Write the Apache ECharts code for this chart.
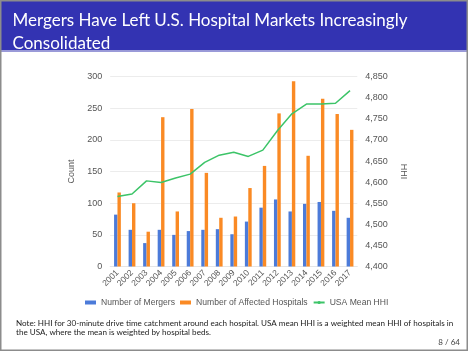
<!DOCTYPE html>
<html>
<head>
<meta charset="utf-8">
<script src="https://cdn.jsdelivr.net/npm/echarts@6/dist/echarts.min.js"></script>
<style>
html,body{margin:0;padding:0;background:#fff;}
#c{width:468px;height:351px;}
</style>
</head>
<body>
<div id="c"></div>
<script>
var years = ['2001','2002','2003','2004','2005','2006','2007','2008','2009','2010','2011','2012','2013','2014','2015','2016','2017'];
var mergers = [82, 58, 37, 58, 50, 56, 58, 59, 51, 71, 93, 106, 87, 99, 102, 88, 77];
var affectedHospitals = [117, 100, 55, 236, 87, 249, 148, 77, 79, 124, 159, 242, 293, 175, 265, 241, 216];
var meanHHI = [4566, 4572, 4603, 4599, 4610, 4619, 4647, 4664, 4671, 4661, 4676, 4722, 4762, 4785, 4785, 4787, 4817];
var countTicks = {min: 0, max: 300, interval: 50};
var hhiTicks = {min: 4400, max: 4850, interval: 50};

var titleLines = 'Mergers Have Left U.S. Hospital Markets Increasingly\nConsolidated';
var noteText = 'Note: HHI for 30-minute drive time catchment around each hospital. USA mean HHI is a weighted mean HHI of hospitals in\nthe USA, where the mean is weighted by hospital beds.';
var pageText = '8 / 64';

var chart = echarts.init(document.getElementById('c'), null, {renderer: 'canvas'});
var axisFont = 'Liberation Sans, Arial, sans-serif';
var slideFont = 'Lato, DejaVu Sans, sans-serif';

function fmt(v){ return String(v).replace(/\B(?=(\d{3})+(?!\d))/g, ','); }

chart.setOption({
  backgroundColor: '#ffffff',
  animation: false,
  grid: {left: 110.2, right: 110.7, top: 76.7, bottom: 84.5, containLabel: false},
  legend: {
    data: [
      {name: 'Number of Mergers', icon: 'rect'},
      {name: 'Number of Affected Hospitals', icon: 'rect'},
      {name: 'USA Mean HHI'}
    ],
    left: 85, top: 298,
    itemWidth: 11, itemHeight: 4, itemGap: 5,
    textStyle: {fontFamily: axisFont, fontSize: 8.6, color: '#555'},
    padding: 0
  },
  xAxis: {
    type: 'category', data: years,
    axisLine: {show: true, lineStyle: {color: '#e6e6e6'}},
    axisTick: {show: false},
    axisLabel: {rotate: 45, fontFamily: axisFont, fontSize: 8.5, color: '#555', margin: 5, interval: 0}
  },
  yAxis: [
    {
      type: 'value', min: countTicks.min, max: countTicks.max, interval: countTicks.interval,
      name: 'Count', nameLocation: 'middle', nameGap: 27, nameRotate: 90,
      nameTextStyle: {fontFamily: axisFont, fontSize: 9, color: '#555'},
      axisLine: {show: false}, axisTick: {show: false},
      axisLabel: {fontFamily: axisFont, fontSize: 9, color: '#555', margin: 8},
      splitLine: {show: true, lineStyle: {color: '#ececec', width: 1}}
    },
    {
      type: 'value', min: hhiTicks.min, max: hhiTicks.max, interval: hhiTicks.interval,
      name: 'HHI', nameLocation: 'middle', nameGap: 34, nameRotate: -90,
      nameTextStyle: {fontFamily: axisFont, fontSize: 9, color: '#555'},
      axisLine: {show: false}, axisTick: {show: false},
      axisLabel: {fontFamily: axisFont, fontSize: 9, color: '#555', margin: 8, formatter: fmt},
      splitLine: {show: false}
    }
  ],
  series: [
    {name: 'Number of Mergers', type: 'bar', data: mergers, barWidth: 3.4, barGap: '0%',
     itemStyle: {color: '#4C7BD9'}},
    {name: 'Number of Affected Hospitals', type: 'bar', data: affectedHospitals, barWidth: 3.4, barGap: '0%',
     itemStyle: {color: '#FA8A24'}},
    {name: 'USA Mean HHI', type: 'line', yAxisIndex: 1, data: meanHHI, showSymbol: false, symbol: 'none',
     lineStyle: {color: '#3CC468', width: 1.5}, itemStyle: {color: '#3CC468'}}
  ],
  graphic: [
    {type: 'rect', shape: {x: 0, y: 0, width: 468, height: 50}, style: {fill: '#3333B2'}, z: 10},
    {type: 'rect', shape: {x: 0, y: 50, width: 468, height: 2}, style: {fill: '#9a9ad8'}, z: 10},
    {type: 'text', left: 12.5, top: 9.5, z: 11,
     style: {text: titleLines, fill: '#ffffff', font: '17px ' + slideFont, lineHeight: 22.5}},
    {type: 'text', left: 16, top: 318.5, z: 11,
     style: {text: noteText, fill: '#222', font: '8.1px ' + slideFont, lineHeight: 9.2}},
    {type: 'text', right: 8, top: 338.5, z: 11,
     style: {text: pageText, fill: '#444', font: '8px ' + slideFont}},
    {type: 'rect', shape: {x: 0.5, y: 0.5, width: 467, height: 350}, style: {fill: 'none', stroke: '#8c8c8c', lineWidth: 2}, z: 12}
  ]
});
</script>
</body>
</html>
